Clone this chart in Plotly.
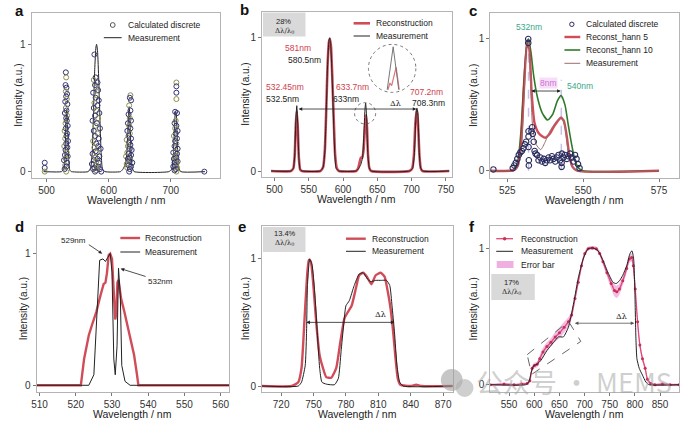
import plotly.graph_objects as go

W, H = 689, 424
FONT = "Liberation Sans, Arial, Helvetica, sans-serif"
SERIF = "DejaVu Serif, Liberation Serif, serif"

RED = "rgba(200,45,60,0.85)"
BLACK = "#222222"
GREEN = "#2f7a2a"
PINK = "#e0457b"

# ---------------- panel a : calculated discrete points ----------------
a_c1_x = [531.0, 531.5, 530.5, 532.0, 531.0, 533.0, 531.5, 532.5, 530.0, 533.5,
          531.0, 532.0, 529.5, 533.0, 531.5, 532.5, 530.5, 534.0, 531.0, 529.0,
          533.0, 532.0, 530.0, 534.5, 531.5, 528.5, 533.5, 530.5, 532.5, 529.5,
          534.0, 531.0, 528.0, 533.0, 530.0, 532.0, 529.0, 531.5]
a_c1_y = [0.78, 0.74, 0.68, 0.66, 0.63, 0.61, 0.59, 0.57, 0.55, 0.53,
          0.50, 0.48, 0.46, 0.44, 0.42, 0.40, 0.38, 0.36, 0.34, 0.32,
          0.30, 0.28, 0.26, 0.24, 0.22, 0.20, 0.19, 0.17, 0.15, 0.13,
          0.12, 0.10, 0.09, 0.07, 0.05, 0.04, 0.02, 0.0]
a_c2_x = [577, 579, 576, 582, 578, 580, 583, 575, 581, 579,
          584, 577, 582, 576, 580, 585, 578, 583, 574, 581,
          579, 586, 576, 582, 578, 584, 575, 580, 583, 577,
          587, 579, 581, 574, 585, 578, 582, 576, 580, 584,
          573, 579, 583, 577, 581, 586, 575, 580, 578, 588]
a_c2_y = [0.92, 0.74, 0.72, 0.70, 0.68, 0.66, 0.64, 0.62, 0.60, 0.58,
          0.56, 0.54, 0.52, 0.50, 0.48, 0.46, 0.44, 0.42, 0.40, 0.38,
          0.36, 0.34, 0.32, 0.30, 0.28, 0.26, 0.24, 0.22, 0.20, 0.19,
          0.18, 0.16, 0.15, 0.14, 0.12, 0.11, 0.10, 0.09, 0.08, 0.07,
          0.06, 0.05, 0.04, 0.03, 0.03, 0.02, 0.02, 0.01, 0.0, 0.0]
a_c3_x = [635, 634, 636, 633, 635, 632, 634, 636, 631, 633,
          635, 630, 634, 632, 636, 629, 633, 635, 631, 634,
          637, 630, 632, 636, 628, 634, 631, 635, 633, 638,
          629, 632, 636, 630, 634, 633]
a_c3_y = [0.60, 0.58, 0.56, 0.52, 0.48, 0.45, 0.42, 0.40, 0.38, 0.36,
          0.34, 0.32, 0.30, 0.28, 0.26, 0.25, 0.23, 0.21, 0.20, 0.18,
          0.17, 0.15, 0.14, 0.13, 0.12, 0.11, 0.10, 0.09, 0.08, 0.07,
          0.06, 0.05, 0.04, 0.03, 0.02, 0.0]
a_c4_x = [709, 709, 709, 709, 707, 710, 708, 706, 709, 707,
          711, 708, 705, 710, 707, 709, 706, 711, 708, 704,
          710, 707, 709, 705, 708, 711, 706, 709, 707, 704,
          710, 708, 706, 709]
a_c4_y = [0.70, 0.67, 0.62, 0.57, 0.47, 0.46, 0.40, 0.38, 0.36, 0.34,
          0.32, 0.30, 0.28, 0.26, 0.24, 0.22, 0.20, 0.18, 0.16, 0.15,
          0.14, 0.12, 0.11, 0.10, 0.09, 0.08, 0.07, 0.06, 0.05, 0.04,
          0.03, 0.02, 0.01, 0.0]
a_ext_x = [497, 497, 497, 754]
a_ext_y = [0.07, 0.03, 0.0, 0.0]

# ---------------- panels a/b : measurement & reconstruction ----------------
meas_x = [495, 524, 527.5, 529.5, 531, 532.5, 534, 535.5, 537.5, 540,
          567, 571, 573.5, 575.5, 577.5, 579.5, 580.5, 582, 584, 586, 588, 590, 594,
          619, 623, 626, 628.5, 630.5, 632, 633, 634.3, 636, 638, 641,
          697, 701.5, 704, 706, 707.5, 708.3, 709.5, 711, 713, 716, 755]
meas_y = [0, 0, 0.02, 0.12, 0.36, 0.49, 0.34, 0.1, 0.01, 0,
          0, 0.03, 0.15, 0.45, 0.8, 0.98, 1.0, 0.95, 0.72, 0.4, 0.13, 0.02, 0,
          0, 0.02, 0.05, 0.1, 0.28, 0.46, 0.51, 0.42, 0.15, 0.03, 0,
          0, 0.02, 0.12, 0.36, 0.47, 0.47, 0.4, 0.17, 0.03, 0, 0]
recon_x = [495, 524, 527.5, 529.5, 531, 532.45, 534, 535.5, 537.5, 540,
           567, 571, 573.5, 575.5, 577.5, 579.5, 581, 582.5, 584.5, 586.5, 588.5, 591, 594,
           619, 622, 624, 626, 628, 630, 632, 633.7, 635, 636.5, 638.5, 641,
           697, 701, 703.5, 705.5, 707.2, 708.5, 710, 711.5, 713.5, 716, 755]
recon_y = [0, 0, 0.02, 0.12, 0.34, 0.45, 0.32, 0.1, 0.01, 0,
           0, 0.03, 0.16, 0.46, 0.8, 0.97, 0.99, 0.93, 0.68, 0.38, 0.12, 0.02, 0,
           0, 0.02, 0.06, 0.1, 0.1, 0.16, 0.33, 0.42, 0.33, 0.12, 0.02, 0,
           0, 0.02, 0.12, 0.35, 0.45, 0.43, 0.3, 0.12, 0.02, 0, 0]
# zoomed inset (b)
inset_meas_x = [664.5, 673.2, 681.3]
inset_meas_y = [0.61, 0.932, 0.61]
inset_rec_x = [665.5, 668.5, 671.0, 677.5, 682.0]
inset_rec_y = [0.61, 0.66, 0.64, 0.78, 0.61]
b_labels_red = ["581nm", "532.45nm", "633.7nm", "707.2nm"]
b_labels_red_x = [534.6, 515, 614, 722]
b_labels_red_y = [0.92, 0.63, 0.63, 0.595]
b_labels_blk = ["580.5nm", "532.5nm", "633nm", "708.3nm"]
b_labels_blk_x = [544, 512, 605, 724.5]
b_labels_blk_y = [0.83, 0.54, 0.54, 0.51]

# ---------------- panel c ----------------
c_disc_x = [520.4, 526.8, 527.3, 527.8, 528.3, 528.8, 529.3, 529.8, 530.3, 530.8,
            531.2, 531.9, 531.9, 532.0, 532.0, 532.0, 532.1, 532.1, 533.0, 533.2,
            533.4, 533.7, 534.0, 534.3, 534.8, 535.3, 535.9, 536.4, 537.0, 537.5,
            538.0, 538.6, 539.1, 539.7, 540.2, 540.8, 541.3, 541.9, 542.4, 542.9,
            542.9, 543.0, 543.5, 544.0, 544.6, 545.1, 545.7, 546.2, 546.8, 547.3,
            547.8, 548.3, 548.8]
c_disc_y = [0.01, 0.02, 0.04, 0.06, 0.09, 0.12, 0.14, 0.15, 0.17, 0.2,
            0.22, 1.0, 0.97, 0.3, 0.26, 0.18, 0.08, 0.04, 0.3, 0.33,
            0.28, 0.22, 0.15, 0.13, 0.12, 0.08, 0.1, 0.07, 0.09, 0.06,
            0.08, 0.1, 0.08, 0.11, 0.09, 0.07, 0.1, 0.12, 0.08, 0.06,
            0.03, 0.13, 0.1, 0.12, 0.09, 0.11, 0.13, 0.1, 0.07, 0.12,
            0.09, 0.05, 0.02]
c_h10_x = [519.4, 526, 527.5, 528.5, 529.5, 530.5, 531.5, 532, 532.8, 533.7, 535, 536.5,
           538.3, 540, 541.5, 542.7, 544, 545, 546.2, 547.3, 548.5, 550, 575]
c_h10_y = [0, 0, 0.02, 0.08, 0.3, 0.7, 0.97, 1.0, 0.9, 0.72, 0.55, 0.44,
           0.385, 0.43, 0.53, 0.57, 0.5, 0.36, 0.2, 0.08, 0.02, 0, 0]
c_h5_x = [519.4, 526, 527.5, 528.5, 529.5, 530.5, 531.5, 532.2, 533, 534, 535.5, 537.5,
          539, 540.5, 542.6, 543.6, 544.6, 545.5, 546.5, 548, 575]
c_h5_y = [0, 0, 0.01, 0.04, 0.2, 0.62, 0.96, 0.93, 0.6, 0.36, 0.28, 0.25,
          0.28, 0.34, 0.4, 0.38, 0.26, 0.11, 0.03, 0, 0]
c_meas_x = [519.4, 526, 528, 529.5, 530.5, 531.5, 532, 532.6, 533.3, 534.5, 536, 537.5,
            539, 541, 542.8, 544, 545, 546.3, 548, 575]
c_meas_y = [0, 0, 0.02, 0.15, 0.55, 0.98, 1.0, 0.7, 0.35, 0.2, 0.16, 0.22,
            0.3, 0.37, 0.41, 0.33, 0.15, 0.03, 0, 0]

# ---------------- panel d ----------------
d_rec_x = [509.2, 521.4, 522.3, 523.6, 524.5, 525.7, 526.8, 527.7, 528.2, 528.6,
           529.1, 529.5, 530, 530.5, 530.9, 531.2, 531.5, 531.8, 532.5, 533.4,
           534.5, 535.5, 536.1, 536.8, 537.3, 562.4]
d_rec_y = [0, 0, 0.2, 0.38, 0.46, 0.56, 0.68, 0.77, 0.78, 0.85,
           0.99, 1.0, 0.96, 0.68, 0.5, 0.55, 0.78, 0.8, 0.66, 0.56,
           0.43, 0.3, 0.23, 0.1, 0, 0]
d_meas_x = [509.2, 523.6, 525, 525.9, 526.6, 527.5, 528.2, 528.8, 529.5, 530,
            530.5, 530.9, 531.4, 531.8, 532.3, 532.7, 533.6, 535, 562.4]
d_meas_y = [0, 0, 0.08, 0.56, 0.95, 0.96, 0.94, 0.97, 1.0, 0.86,
            0.2, 0.08, 0.3, 0.89, 0.68, 0.15, 0.03, 0, 0]

# ---------------- panel e ----------------
e_rec_x = [702.3, 729.8, 735.9, 738.9, 741.4, 743.5, 745.6, 747.4, 749.6, 752.7,
           755.7, 758.8, 761.8, 766.4, 771, 774.9, 778.6, 781.7, 785.3, 789.3,
           792.3, 796, 799.3, 803.6, 807.6, 812.1, 815.8, 818.8, 821.3, 823.7,
           825.9, 828, 830.4, 840, 845, 850, 878.9]
e_rec_y = [0, 0, 0.03, 0.14, 0.48, 0.79, 0.99, 0.98, 0.82, 0.48,
           0.24, 0.14, 0.07, 0.065, 0.14, 0.35, 0.53, 0.58, 0.63, 0.77,
           0.87, 0.89, 0.86, 0.8, 0.87, 0.89, 0.86, 0.74, 0.61, 0.43,
           0.22, 0.06, 0.01, 0, 0.01, 0, 0]
e_meas_x = [702.3, 735.9, 738.9, 742.3, 743.5, 744.4, 746.5, 748.7, 751.1, 753.5,
            755.7, 757.8, 761.8, 769.4, 773, 775.5, 777.9, 780, 783.1, 787.7,
            792.3, 796, 800, 803, 807.6, 812.8, 817.6, 820.6, 822.7, 824.9,
            827.3, 829.8, 833, 878.9]
e_meas_y = [0, 0, 0.03, 0.16, 0.4, 0.79, 1.0, 0.95, 0.74, 0.42,
            0.14, 0.03, 0.015, 0.01, 0.06, 0.27, 0.48, 0.63, 0.67, 0.79,
            0.88, 0.89, 0.84, 0.82, 0.83, 0.83, 0.83, 0.79, 0.63, 0.43,
            0.16, 0.03, 0, 0]

# ---------------- panel f ----------------
f_rec_x = [512.7, 540, 560, 575, 586, 591.3, 595.8, 600.4, 605.7, 610.9,
           617.5, 625.3, 633.2, 641.7, 650.2, 659.4, 667.9, 674.4, 681, 687.5,
           694, 700.6, 707.2, 715.7, 723.5, 730.1, 736.6, 744.5, 753, 759.6,
           764.1, 769.4, 775.9, 783.8, 789, 793.6, 796.9, 800.8, 805.4, 810,
           815.2, 820.5, 825, 831.6, 840, 855, 870, 887.9]
f_rec_y = [0, 0.005, 0, 0.005, 0.01, 0.03, 0.12, 0.14, 0.15, 0.19,
           0.24, 0.28, 0.31, 0.35, 0.38, 0.42, 0.46, 0.51, 0.63, 0.75,
           0.87, 0.96, 0.995, 1.0, 0.995, 0.96, 0.9, 0.82, 0.74, 0.69,
           0.68, 0.7, 0.76, 0.85, 0.92, 0.93, 0.87, 0.7, 0.46, 0.29,
           0.19, 0.12, 0.04, 0.01, 0, 0.005, 0, 0]
f_err = [0.01, 0.01, 0.01, 0.01, 0.01, 0.015, 0.02, 0.02, 0.02, 0.025,
         0.03, 0.03, 0.03, 0.035, 0.04, 0.04, 0.035, 0.03, 0.025, 0.02,
         0.02, 0.015, 0.015, 0.015, 0.015, 0.02, 0.025, 0.03, 0.04, 0.045,
         0.045, 0.04, 0.035, 0.03, 0.03, 0.03, 0.035, 0.03, 0.025, 0.025,
         0.02, 0.02, 0.015, 0.01, 0.01, 0.01, 0.01, 0.01]
f_meas_x = [512.7, 582.7, 589.3, 593.9, 599.1, 605.7, 613.6, 625.3, 638.4, 648.2,
            658, 667.9, 672.5, 679, 687.5, 697.3, 707.2, 717, 726.8, 736.6,
            746.5, 756.3, 762.8, 769.4, 775.9, 783.8, 790.4, 794.3, 797.6, 800.2,
            802.1, 804.1, 808.7, 815.2, 821.8, 828.3, 887.9]
f_meas_y = [0, 0, 0.02, 0.09, 0.14, 0.15, 0.18, 0.25, 0.31, 0.35,
            0.35, 0.42, 0.49, 0.61, 0.78, 0.92, 0.995, 1.0, 0.98, 0.91,
            0.82, 0.75, 0.74, 0.76, 0.8, 0.87, 0.96, 0.98, 0.92, 0.65,
            0.34, 0.19, 0.12, 0.07, 0.02, 0, 0]

for xs, ys in [(a_c1_x, a_c1_y), (a_c2_x, a_c2_y), (a_c3_x, a_c3_y), (a_c4_x, a_c4_y),
               (meas_x, meas_y), (recon_x, recon_y), (c_disc_x, c_disc_y),
               (c_h10_x, c_h10_y), (c_h5_x, c_h5_y), (c_meas_x, c_meas_y),
               (d_rec_x, d_rec_y), (d_meas_x, d_meas_y), (e_rec_x, e_rec_y),
               (e_meas_x, e_meas_y), (f_rec_x, f_rec_y), (f_rec_x, f_err),
               (f_meas_x, f_meas_y)]:
    assert len(xs) == len(ys)

# ---------------- layout of panels (pixel boxes) ----------------
panels = [
    # letter, (left, right, top, bottom) px, xrange, yrange, xticks
    ("a", (27, 218, 13, 178), [476, 780], [-0.05, 1.246], [500, 600, 700]),
    ("b", (260, 452, 12, 177), [481.7, 758.7], [-0.045, 1.193], [500, 550, 600, 650, 700, 750]),
    ("c", (491, 682, 13, 178), [519.4, 581.6], [-0.055, 1.197], [525, 550, 575]),
    ("d", (32, 227, 226, 392), [509.2, 562.4], [-0.051, 1.21], [510, 520, 530, 540, 550, 560]),
    ("e", (260, 453, 226, 392), [702.3, 878.9], [-0.047, 1.257], [720, 750, 780, 810, 840, 870]),
    ("f", (491, 682, 226, 392), [512.7, 887.9], [-0.053, 1.161], [550, 600, 650, 700, 750, 800, 850]),
]


def axn(i):
    return ("x" if i == 1 else f"x{i}", "y" if i == 1 else f"y{i}")


fig = go.Figure()
layout = dict(width=W, height=H, margin=dict(l=0, r=0, t=0, b=0),
              paper_bgcolor="white", plot_bgcolor="white", showlegend=False,
              font=dict(family=FONT, color=BLACK))
for i, (let, (l, r, t, b), xr, yr, xt) in enumerate(panels, start=1):
    xa, ya = axn(i)
    common = dict(showline=True, mirror=True, linecolor="#b4b4b4", linewidth=1,
                  ticks="outside", ticklen=3, tickcolor="#777", tickwidth=1,
                  showgrid=False, zeroline=False,
                  tickfont=dict(size=10, color="#333", family=FONT))
    layout["xaxis" if i == 1 else f"xaxis{i}"] = dict(
        common, domain=[l / W, r / W], range=xr, tickvals=xt, anchor=ya)
    layout["yaxis" if i == 1 else f"yaxis{i}"] = dict(
        common, domain=[1 - b / H, 1 - t / H], range=yr, tickvals=[0, 1], anchor=xa)
fig.update_layout(**layout)


def add(i, **kw):
    xa, ya = axn(i)
    fig.add_trace(go.Scatter(xaxis=xa, yaxis=ya, showlegend=False, **kw))


# panel a
a_x = a_c1_x + a_c2_x + a_c3_x + a_c4_x + a_ext_x
a_y = a_c1_y + a_c2_y + a_c3_y + a_c4_y + a_ext_y
edge_cols = ["#2c2f6e", "#8e8f4c", "#3a3a78"]
add(1, x=meas_x, y=meas_y, mode="lines", name="Measurement",
    line=dict(color=BLACK, width=1, shape="spline", smoothing=0.5))
add(1, x=a_x, y=a_y, mode="markers", name="Calculated discrete",
    marker=dict(symbol="circle-open", size=5,
                color=[edge_cols[k % 3] for k in range(len(a_x))], line=dict(width=1)))

# panel b
add(2, x=recon_x, y=recon_y, mode="lines", name="Reconstruction",
    line=dict(color=RED, width=2.6, shape="spline", smoothing=0.5))
add(2, x=meas_x, y=meas_y, mode="lines", name="Measurement",
    line=dict(color=BLACK, width=1, shape="spline", smoothing=0.5))
add(2, x=inset_rec_x, y=inset_rec_y, mode="lines", line=dict(color="rgba(200,60,70,0.7)", width=1.2))
add(2, x=inset_meas_x, y=inset_meas_y, mode="lines", line=dict(color="#777", width=1))

# panel c
add(3, x=c_h10_x, y=c_h10_y, mode="lines", name="Reconst_hann 10",
    line=dict(color=GREEN, width=1.6, shape="spline", smoothing=0.6))
add(3, x=c_h5_x, y=c_h5_y, mode="lines", name="Reconst_hann 5",
    line=dict(color=RED, width=2.4, shape="spline", smoothing=0.6))
add(3, x=c_meas_x, y=c_meas_y, mode="lines", name="Measurement",
    line=dict(color="#9a6d6d", width=1, shape="spline", smoothing=0.6))
add(3, x=c_disc_x, y=c_disc_y, mode="markers", name="Calculated discrete",
    marker=dict(symbol="circle-open", size=5.5, color="#2a2c5e", line=dict(width=1.1)))

# panel d
add(4, x=d_rec_x, y=d_rec_y, mode="lines", name="Reconstruction", line=dict(color=RED, width=2.4))
add(4, x=d_meas_x, y=d_meas_y, mode="lines", name="Measurement", line=dict(color=BLACK, width=1))

# panel e
add(5, x=e_rec_x, y=e_rec_y, mode="lines", name="Reconstruction",
    line=dict(color=RED, width=2.4, shape="spline", smoothing=0.5))
add(5, x=e_meas_x, y=e_meas_y, mode="lines", name="Measurement",
    line=dict(color=BLACK, width=1, shape="spline", smoothing=0.5))

# panel f
f_up = [v + e for v, e in zip(f_rec_y, f_err)]
f_lo = [v - e for v, e in zip(f_rec_y, f_err)]
add(6, x=f_rec_x, y=f_up, mode="lines", line=dict(width=0, shape="spline"), hoverinfo="skip")
add(6, x=f_rec_x, y=f_lo, mode="lines", line=dict(width=0, shape="spline"), fill="tonexty",
    fillcolor="rgba(226,110,200,0.45)", name="Error bar")
add(6, x=f_rec_x, y=f_rec_y, mode="lines+markers", name="Reconstruction",
    line=dict(color=PINK, width=1.3, shape="spline", smoothing=0.5),
    marker=dict(size=3, color="#c8304f"))
add(6, x=f_meas_x, y=f_meas_y, mode="lines", name="Measurement",
    line=dict(color=BLACK, width=1, shape="spline", smoothing=0.5))

# ---------------- annotations & shapes ----------------
ann = []
shapes = []


def ptext(xp, yp, text, size=9, color=BLACK, xanchor="center", family=FONT, **kw):
    ann.append(dict(xref="paper", yref="paper", x=xp / W, y=1 - yp / H, text=text,
                    showarrow=False, xanchor=xanchor, yanchor="middle",
                    font=dict(size=size, color=color, family=family), **kw))


def dtext(i, x, y, text, size=8.5, color=BLACK, family=FONT, **kw):
    xa, ya = axn(i)
    ann.append(dict(xref=xa, yref=ya, x=x, y=y, text=text, showarrow=False,
                    xanchor="center", yanchor="middle",
                    font=dict(size=size, color=color, family=family), **kw))


def darrow(i, x0, y0, x1, y1, both=False, color=BLACK):
    xa, ya = axn(i)
    ann.append(dict(xref=xa, yref=ya, axref=xa, ayref=ya, x=x1, y=y1, ax=x0, ay=y0,
                    text="", showarrow=True, arrowhead=2, arrowsize=0.9, arrowwidth=0.8,
                    arrowcolor=color, arrowside="end+start" if both else "end",
                    standoff=0, startstandoff=0))


def prect(x0, y0, x1, y1, fill):
    shapes.append(dict(type="rect", xref="paper", yref="paper", x0=x0 / W, x1=x1 / W,
                       y0=1 - y1 / H, y1=1 - y0 / H, fillcolor=fill, line=dict(width=0),
                       layer="below"))


def pline(x0, y0, x1, y1, color, width, dash="solid"):
    shapes.append(dict(type="line", xref="paper", yref="paper", x0=x0 / W, x1=x1 / W,
                       y0=1 - y0 / H, y1=1 - y1 / H, line=dict(color=color, width=width, dash=dash)))


def pcircle(cx, cy, rr, color, fill="rgba(0,0,0,0)", width=1):
    shapes.append(dict(type="circle", xref="paper", yref="paper",
                       x0=(cx - rr) / W, x1=(cx + rr) / W, y0=1 - (cy + rr) / H, y1=1 - (cy - rr) / H,
                       line=dict(color=color, width=width), fillcolor=fill))


# axis titles & panel letters
for i, (let, (l, r, t, b), xr, yr, xt) in enumerate(panels, start=1):
    ptext((l + r) / 2, b + 22, "Wavelength / nm", size=10.5, color="#222")
    ptext(l - 13.5 if i in (1, 4) else l - 17, (t + b) / 2, "Intensity (a.u.)", size=10,
          color="#222", textangle=-90)
letters = {"a": (15, 11), "b": (242, 9), "c": (473, 11), "d": (15, 227), "e": (240, 226), "f": (472, 226)}
for let, (lx, ly) in letters.items():
    ptext(lx, ly, f"<b>{let}</b>", size=15, color="#111")

# legends (manual, compact)
LG = 8.5
# a
pcircle(109, 25, 2.4, "#555")
ptext(122.5, 25, "Calculated discrete", size=LG, xanchor="left")
pline(100, 37.7, 118, 37.7, BLACK, 1)
ptext(122.5, 37.7, "Measurement", size=LG, xanchor="left")
# b
pline(352.7, 23.3, 369.3, 23.3, RED, 2.6)
ptext(373.5, 23.3, "Reconstruction", size=LG, xanchor="left")
pline(352.7, 36, 369.3, 36, BLACK, 1)
ptext(373.5, 36, "Measurement", size=LG, xanchor="left")
# c
pcircle(573.5, 24.3, 2.2, "#2a2c5e")
ptext(585.5, 24.3, "Calculated discrete", size=LG, xanchor="left")
pline(566, 37, 582, 37, RED, 2.4)
ptext(585.5, 37, "Reconst_hann 5", size=LG, xanchor="left")
pline(566, 50, 582, 50, GREEN, 1.6)
ptext(585.5, 50, "Reconst_hann 10", size=LG, xanchor="left")
pline(566, 63.3, 582, 63.3, "#9a6d6d", 1)
ptext(585.5, 63.3, "Measurement", size=LG, xanchor="left")
# d
pline(116.7, 238, 136.7, 238, RED, 2.4)
ptext(140, 238, "Reconstruction", size=LG, xanchor="left")
pline(116.7, 252, 136.7, 252, BLACK, 1)
ptext(140, 252, "Measurement", size=LG, xanchor="left")
# e
pline(345, 238.7, 365, 238.7, RED, 2.4)
ptext(369, 238.7, "Reconstruction", size=LG, xanchor="left")
pline(345, 251.3, 365, 251.3, BLACK, 1)
ptext(369, 251.3, "Measurement", size=LG, xanchor="left")
# f
pline(497, 238.7, 514, 238.7, PINK, 1.3)
pcircle(505.5, 238.7, 1.3, "#c8304f", fill="#c8304f")
ptext(520, 238.7, "Reconstruction", size=LG, xanchor="left")
pline(497, 251.3, 514, 251.3, BLACK, 1)
ptext(520, 251.3, "Measurement", size=LG, xanchor="left")
prect(497.5, 261, 514.5, 268, "rgba(226,110,200,0.55)")
ptext(520, 264.5, "Error bar", size=LG, xanchor="left")

# gray ratio boxes
prect(261, 12.5, 304, 36.5, "#d9d9d9")
ptext(282, 21.5, "28%", size=7.5)
ptext(283, 30.5, "Δλ/λ<sub>0</sub>", size=7, family=SERIF)
prect(261, 227, 304, 252, "#d9d9d9")
ptext(283, 233.7, "13.4%", size=7.5)
ptext(283, 242.7, "Δλ/λ<sub>0</sub>", size=7, family=SERIF)
prect(492, 274, 536, 300, "#d9d9d9")
ptext(512, 282.5, "17%", size=7.5)
ptext(512, 292, "Δλ/λ<sub>0</sub>", size=7, family=SERIF)

# panel b annotations
for t, x, y in zip(b_labels_red, b_labels_red_x, b_labels_red_y):
    dtext(2, x, y, t, color="#d0404e")
for t, x, y in zip(b_labels_blk, b_labels_blk_x, b_labels_blk_y):
    dtext(2, x, y, t, color=BLACK)
darrow(2, 533, 0.465, 707, 0.465, both=True)
dtext(2, 676, 0.505, "Δλ", size=8, family=SERIF)
shapes.append(dict(type="circle", xref="x2", yref="y2", x0=632.2 - 15.4, x1=632.2 + 15.4,
                   y0=0.433 - 0.08, y1=0.433 + 0.08, line=dict(color="#555", width=0.8, dash="dot")))
shapes.append(dict(type="circle", xref="x2", yref="y2", x0=671.7 - 34.6, x1=671.7 + 34.6,
                   y0=0.77 - 0.18, y1=0.77 + 0.18, line=dict(color="#555", width=0.8, dash="dot")))

# panel c annotations
for xv, ytop in [(532, 1.0), (542.8, 0.69)]:
    shapes.append(dict(type="line", xref="x3", yref="y3", x0=xv, x1=xv, y0=0, y1=ytop,
                       line=dict(color="#c9c0e6", width=1.5, dash="dash"), layer="below"))
dtext(3, 532.1, 1.094, "532nm", color="#3aa98a")
dtext(3, 548.9, 0.643, "540nm", color="#3aa98a")
dtext(3, 538.6, 0.665, "8nm", color="#cf6fd6", bgcolor="#f6dff6", borderpad=0)
darrow(3, 532.4, 0.605, 542.6, 0.605, both=True)

# panel d annotations
dtext(4, 519.5, 1.10, "529nm", size=8)
darrow(4, 523.2, 1.076, 527.3, 1.0)
dtext(4, 543.3, 0.785, "532nm", size=8)
darrow(4, 539.7, 0.823, 532.4, 0.886)

# panel e annotations
darrow(5, 742, 0.5, 824.9, 0.5, both=True)
dtext(5, 812, 0.56, "Δλ", size=8, family=SERIF)

# panel f annotations
darrow(6, 677.7, 0.45, 798.9, 0.45, both=True, color="#555")
dtext(6, 772.7, 0.5, "Δλ", size=8, family=SERIF)
shapes.append(dict(type="path", xref="x6", yref="y6",
                   path="M 586,0.22 L 668.3,0.463 L 692.6,0.317 L 594.9,0.076 Z",
                   line=dict(color="#666", width=1, dash="dash")))

# watermark
pcircle(452, 380, 11, "rgba(160,160,160,0.6)", fill="rgba(160,160,160,0.6)", width=0)
pcircle(465, 388, 9, "rgba(175,175,175,0.6)", fill="rgba(175,175,175,0.6)", width=0)
ptext(576, 381, "公众号 · MEMS", size=27, color="rgba(160,160,160,0.5)",
      family="Noto Sans CJK SC")

fig.update_layout(annotations=ann, shapes=shapes)
fig.write_html("out.html", config={"displayModeBar": False, "staticPlot": True},
               post_script="document.body.style.margin='0';document.body.style.overflow='hidden';")
